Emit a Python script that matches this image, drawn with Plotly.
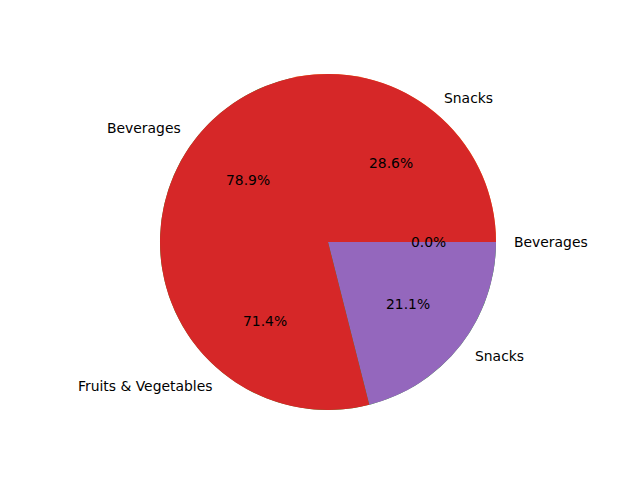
import math
import plotly.graph_objects as go

# Data (two pies drawn on the same axes, second one on top)
labels1 = ["Beverages", "Snacks", "Fruits & Vegetables"]
values1 = [0, 2, 5]
colors1 = ["#1f77b4", "#ff7f0e", "#2ca02c"]

labels2 = ["Beverages", "Snacks"]
values2 = [15, 4]
colors2 = ["#d62728", "#9467bd"]

W, H = 640, 480
CX, CY, R = 328, 242, 168  # pie centre and radius in pixels

dom_x = [(CX - R) / W, (CX + R) / W]
dom_y = [1 - (CY + R) / H, 1 - (CY - R) / H]

fig = go.Figure()
for labs, vals, cols in [(labels1, values1, colors1), (labels2, values2, colors2)]:
    # slices go counterclockwise from 3 o'clock: equivalent to reversed order clockwise
    fig.add_trace(go.Pie(
        labels=labs[::-1], values=vals[::-1], sort=False, direction="clockwise",
        rotation=90, textinfo="none", hoverinfo="label+percent",
        marker=dict(colors=cols[::-1], line=dict(width=0)),
        domain=dict(x=dom_x, y=dom_y), showlegend=False,
    ))

annotations = []
font = dict(family="DejaVu Sans", size=13.9, color="black")
for labs, vals in [(labels1, values1), (labels2, values2)]:
    total = sum(vals)
    start = 0.0
    for lab, v in zip(labs, vals):
        frac = v / total
        mid = (start + frac / 2) * 2 * math.pi
        start += frac
        c, s = math.cos(mid), math.sin(mid)
        # percentage label
        annotations.append(dict(
            x=(CX + 0.6 * R * c) / W, y=1 - (CY - 0.6 * R * s) / H,
            xref="paper", yref="paper", text=f"{frac*100:.1f}%",
            showarrow=False, xanchor="center", yanchor="middle", font=font))
        # category label
        annotations.append(dict(
            x=(CX + 1.1 * R * c) / W, y=1 - (CY - 1.1 * R * s) / H,
            xref="paper", yref="paper", text=lab, borderpad=0,
            showarrow=False, xanchor="left" if c > 0 else "right",
            yanchor="middle", font=font))

fig.update_layout(
    width=W, height=H, margin=dict(l=0, r=0, t=0, b=0),
    paper_bgcolor="white", plot_bgcolor="white",
    annotations=annotations,
)

fig.write_html("out.html")
